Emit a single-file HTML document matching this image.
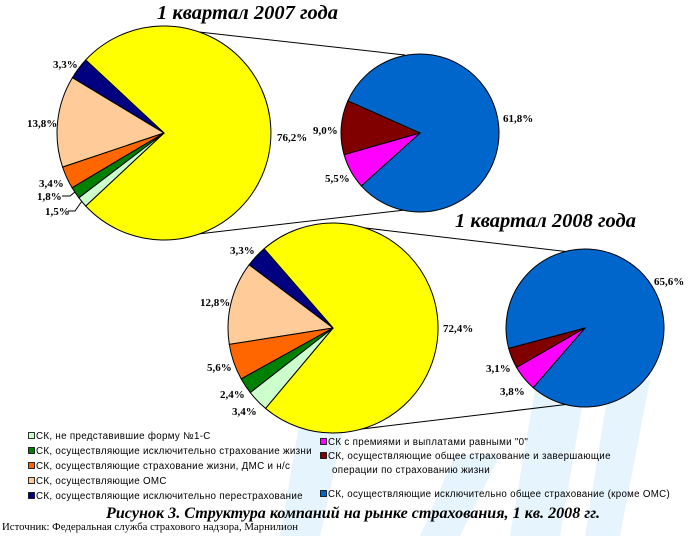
<!DOCTYPE html>
<html><head><meta charset="utf-8"><style>
body{margin:0;background:#fff}
svg{display:block}
.l{font-family:"Liberation Serif",serif;font-weight:bold;font-size:11px}
.t{font-family:"Liberation Serif",serif;font-weight:bold;font-style:italic;font-size:20.5px}
.g{font-family:"Liberation Sans",sans-serif;font-size:9.8px;letter-spacing:0.3px}
</style></head><body>
<svg width="688" height="536" viewBox="0 0 688 536" xmlns="http://www.w3.org/2000/svg">
<g fill="#e6f4fd">
<polygon points="300,420 345,330 365,330 320,536 280,536"/>
<polygon points="455,455 500,455 460,536 420,536"/>
<polygon points="540,360 590,360 560,536 510,536"/>
<polygon points="610,380 650,380 620,536 585,536"/>
</g>
<g stroke="#000" stroke-width="1" fill="none">
<line x1="172" y1="29" x2="405" y2="55"/>
<line x1="172" y1="237" x2="405" y2="210"/>
<line x1="357" y1="227" x2="570" y2="252"/>
<line x1="345" y1="431" x2="570" y2="404"/>
</g>
<g stroke="#000" stroke-width="1">
<path d="M164,133 L85.7,60 A107,107 0 1 1 85.7,206 Z" fill="#ffff00"/>
<path d="M164,133 L85.7,60 A107,107 0 0 0 72.4,77.7 Z" fill="#000080"/>
<path d="M164,133 L72.4,77.7 A107,107 0 0 0 62.6,167.1 Z" fill="#ffcc99"/>
<path d="M164,133 L62.6,167.1 A107,107 0 0 0 72.1,187.8 Z" fill="#ff6600"/>
<path d="M164,133 L72.1,187.8 A107,107 0 0 0 78.9,197.8 Z" fill="#008000"/>
<path d="M164,133 L78.9,197.8 A107,107 0 0 0 85.7,206 Z" fill="#ccffcc"/>

<path d="M420,133 L347.8,100.9 A79,79 0 1 1 361.3,185.9 Z" fill="#0066cc"/>
<path d="M420,133 L347.8,100.9 A79,79 0 0 0 344.1,154.8 Z" fill="#800000"/>
<path d="M420,133 L344.1,154.8 A79,79 0 0 0 361.3,185.9 Z" fill="#ff00ff"/>

<path d="M333,328 L264.1,248.8 A105,105 0 1 1 265.5,408.4 Z" fill="#ffff00"/>
<path d="M333,328 L264.1,248.8 A105,105 0 0 0 249.1,264.8 Z" fill="#000080"/>
<path d="M333,328 L249.1,264.8 A105,105 0 0 0 229.3,344.4 Z" fill="#ffcc99"/>
<path d="M333,328 L229.3,344.4 A105,105 0 0 0 241.2,378.9 Z" fill="#ff6600"/>
<path d="M333,328 L241.2,378.9 A105,105 0 0 0 250.3,392.6 Z" fill="#008000"/>
<path d="M333,328 L250.3,392.6 A105,105 0 0 0 265.5,408.4 Z" fill="#ccffcc"/>

<path d="M585,328 L508.7,348.4 A79,79 0 1 1 533.2,387.6 Z" fill="#0066cc"/>
<path d="M585,328 L508.7,348.4 A79,79 0 0 0 516.6,367.5 Z" fill="#800000"/>
<path d="M585,328 L516.6,367.5 A79,79 0 0 0 533.2,387.6 Z" fill="#ff00ff"/>
</g>
<g stroke="#000" fill="none">
<polyline points="62,196 70,196 75,192"/>
<polyline points="68,211 75,211 82,201"/>
</g>
<text class="t" x="157" y="19">1 квартал 2007 года</text>
<text class="t" x="455" y="227">1 квартал 2008 года</text>
<g class="l">
<text x="53" y="68">3,3%</text>
<text x="27" y="127">13,8%</text>
<text x="277" y="141">76,2%</text>
<text x="39" y="187">3,4%</text>
<text x="37" y="200">1,8%</text>
<text x="45" y="215">1,5%</text>
<text x="313" y="134">9,0%</text>
<text x="325" y="182">5,5%</text>
<text x="503" y="122">61,8%</text>
<text x="230" y="254">3,3%</text>
<text x="200" y="306">12,8%</text>
<text x="443" y="332">72,4%</text>
<text x="207" y="371">5,6%</text>
<text x="220" y="398">2,4%</text>
<text x="232" y="415">3,4%</text>
<text x="654" y="285">65,6%</text>
<text x="486" y="372">3,1%</text>
<text x="500" y="395">3,8%</text>
</g>
<g stroke="#000" stroke-width="0.8">
<rect x="28.5" y="432.5" width="6" height="6" fill="#ccffcc"/>
<rect x="28.5" y="447.5" width="6" height="6" fill="#008000"/>
<rect x="28.5" y="462.5" width="6" height="6" fill="#ff6600"/>
<rect x="28.5" y="477.5" width="6" height="6" fill="#ffcc99"/>
<rect x="28.5" y="492.5" width="6" height="6" fill="#000080"/>
<rect x="320.5" y="438.5" width="6" height="6" fill="#ff00ff"/>
<rect x="320.5" y="452.5" width="6" height="6" fill="#800000"/>
<rect x="320.5" y="490.5" width="6" height="6" fill="#0066cc"/>
</g>
<g class="g">
<text x="36" y="439">СК, не представившие форму №1-С</text>
<text x="36" y="454">СК, осуществляющие исключительно страхование жизни</text>
<text x="36" y="469">СК, осуществляющие страхование жизни, ДМС и н/с</text>
<text x="36" y="484">СК, осуществляющие ОМС</text>
<text x="36" y="499">СК, осуществляющие исключительно перестрахование</text>
<text x="328" y="445">СК с премиями и выплатами равными "0"</text>
<text x="328" y="459">СК, осуществляющие общее страхование и завершающие</text>
<text x="332" y="473">операции по страхованию жизни</text>
<text x="328" y="497" textLength="342" lengthAdjust="spacingAndGlyphs">СК, осуществляющие исключительно общее страхование (кроме ОМС)</text>
</g>
<text x="353" y="518" text-anchor="middle" font-family="Liberation Serif,serif" font-weight="bold" font-style="italic" font-size="16" textLength="494" lengthAdjust="spacingAndGlyphs">Рисунок 3. Структура компаний на рынке страхования, 1 кв. 2008 гг.</text>
<text x="2" y="530" font-family="Liberation Serif,serif" font-size="10" textLength="296" lengthAdjust="spacingAndGlyphs">Источник: Федеральная служба страхового надзора, Марнилион</text>
</svg>
</body></html>
